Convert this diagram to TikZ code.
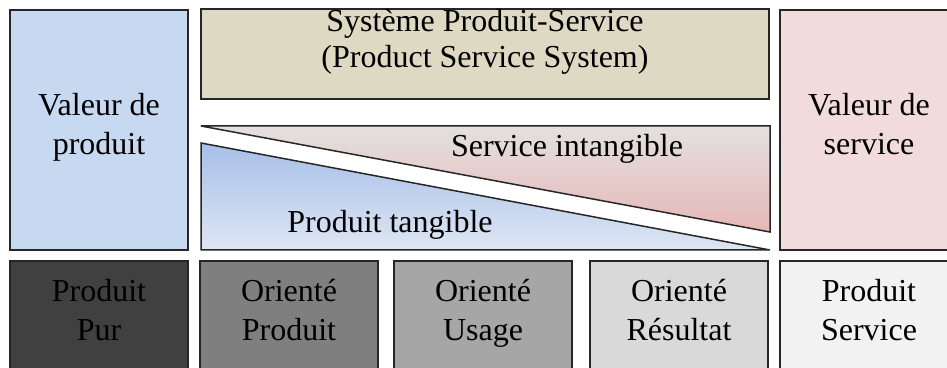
\documentclass[tikz,border=0pt]{standalone}
\usepackage{fontspec}
\setmainfont{Liberation Serif}
\usetikzlibrary{positioning}
\definecolor{prodblue}{HTML}{C6D9F1}
\definecolor{pssbeige}{HTML}{DDD9C3}
\definecolor{servpink}{HTML}{F2DCDB}
\definecolor{servtop}{HTML}{E4E0E0}
\definecolor{servbot}{HTML}{E6B8B7}
\definecolor{prodtop}{HTML}{A8BFE8}
\definecolor{prodbot}{HTML}{DDE6F3}
\definecolor{greyA}{HTML}{404040}
\definecolor{greyB}{HTML}{7F7F7F}
\definecolor{greyC}{HTML}{A6A6A6}
\definecolor{greyD}{HTML}{D9D9D9}
\definecolor{greyE}{HTML}{F2F2F2}
\tikzset{
  box/.style={draw=black!85, line width=0.75pt, inner sep=0pt, align=center,
    font=\fontsize{16}{19.5}\selectfont,
    execute at begin node=\strut, execute at end node=\strut},
  lbl/.style={inner sep=0pt, align=center, font=\fontsize{16}{19.5}\selectfont},
  edge/.style={draw=black!85, line width=0.75pt, line join=miter}
}

\begin{document}
\begin{tikzpicture}[x=0.5pt,y=-0.5pt]
\useasboundingbox (0,0) rectangle (947,368);
% top row
\node[box, fill=prodblue, minimum width=89pt, minimum height=120pt] (vprod) at (99,130) {Valeur de\\produit};
\node[box, fill=pssbeige, minimum width=284pt, minimum height=45pt] (pss) at (485,54) {};
\node[lbl, font=\fontsize{16}{18}\selectfont, execute at begin node=\strut, execute at end node=\strut] (psslbl) at (485,44) {Système Produit-Service\\(Product Service System)};
\node[box, fill=servpink, minimum width=89pt, minimum height=120pt] (vserv) at (869,130) {Valeur de\\service};
% service wedge
\coordinate (s1) at (201,126);
\coordinate (s2) at (770,126);
\coordinate (s3) at (770,232);
\shade[top color=servtop, bottom color=servbot] (s1) -- (s2) -- (s3) -- cycle;
\draw[edge] (s1) -- (s2) -- (s3) -- cycle;
% product wedge
\coordinate (p1) at (201,143);
\coordinate (p2) at (201,250);
\coordinate (p3) at (770,250);
\shade[top color=prodtop, bottom color=prodbot] (p1) -- (p2) -- (p3) -- cycle;
\draw[edge] (p1) -- (p2) -- (p3) -- cycle;
\node[lbl, anchor=base] (servlbl) at (567,157) {Service intangible};
\node[lbl, anchor=base] (prodlbl) at (390,233) {Produit tangible};
% bottom row
\node[box, fill=greyA, minimum width=89pt, minimum height=55pt] (pur) at (99,316) {Produit\\Pur};
\node[box, fill=greyB, minimum width=89pt, minimum height=55pt] (oprod) at (289,316) {Orienté\\Produit};
\node[box, fill=greyC, minimum width=89pt, minimum height=55pt] (ousage) at (483,316) {Orienté\\Usage};
\node[box, fill=greyD, minimum width=89pt, minimum height=55pt] (oresult) at (679,316) {Orienté\\Résultat};
\node[box, fill=greyE, minimum width=89pt, minimum height=55pt] (pserv) at (869,316) {Produit\\Service};
\end{tikzpicture}
\end{document}
